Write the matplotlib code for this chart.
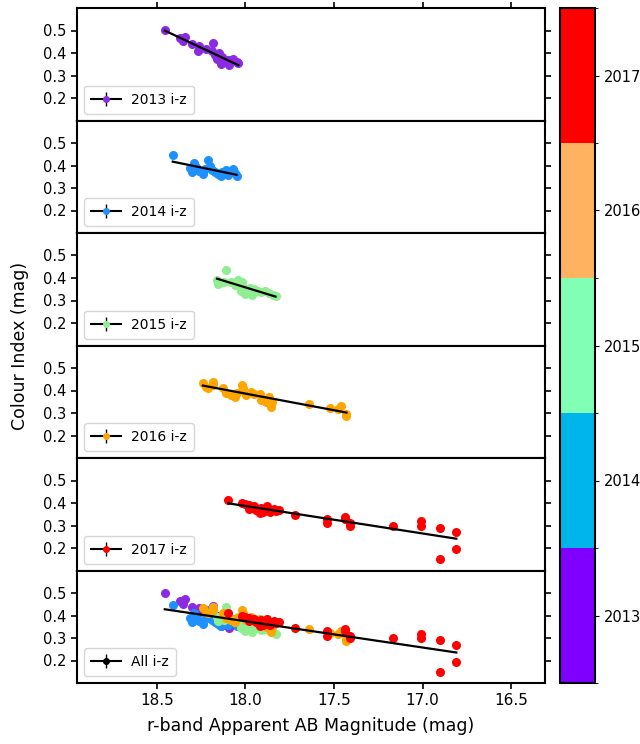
import numpy as np
import matplotlib
matplotlib.use("Agg")
import matplotlib.pyplot as plt
from matplotlib.colors import ListedColormap, BoundaryNorm
import matplotlib as mpl

years = [2013, 2014, 2015, 2016, 2017]
colors = ["blueviolet", "dodgerblue", "lightgreen", "orange", "red"]

mag_2013 = [18.455, 18.37, 18.34, 18.35, 18.30, 18.26, 18.27, 18.22, 18.18, 18.19, 18.17,
            18.15, 18.16, 18.14, 18.13, 18.135, 18.10, 18.09, 18.07, 18.05, 18.04, 18.12, 18.11]
col_2013 = [0.502, 0.465, 0.472, 0.453, 0.44, 0.432, 0.41, 0.42, 0.443, 0.408, 0.39,
            0.40, 0.375, 0.368, 0.383, 0.353, 0.368, 0.345, 0.372, 0.36, 0.355, 0.37, 0.36]

mag_2014 = [18.41, 18.315, 18.29, 18.28, 18.30, 18.26, 18.21, 18.20, 18.19, 18.17, 18.155,
            18.135, 18.13, 18.11, 18.09, 18.10, 18.07, 18.06, 18.05, 18.24, 18.23]
col_2014 = [0.447, 0.387, 0.41, 0.395, 0.372, 0.376, 0.424, 0.40, 0.382, 0.372, 0.364,
            0.352, 0.372, 0.38, 0.372, 0.357, 0.383, 0.365, 0.352, 0.364, 0.385]

mag_2015 = [18.16, 18.155, 18.11, 18.12, 18.08, 18.06, 18.04, 18.03, 18.02, 18.025, 18.005,
            17.995, 17.975, 17.96, 17.95, 17.93, 17.91, 17.89, 17.865, 17.845, 17.83, 17.975]
col_2015 = [0.393, 0.374, 0.437, 0.38, 0.384, 0.37, 0.393, 0.366, 0.38, 0.344, 0.329,
            0.35, 0.336, 0.325, 0.35, 0.344, 0.337, 0.34, 0.334, 0.325, 0.318, 0.357]

mag_2016 = [18.24, 18.22, 18.21, 18.18, 18.185, 18.125, 18.11, 18.08, 18.06, 18.05, 18.02,
            18.015, 17.995, 17.97, 17.95, 17.92, 17.91, 17.885, 17.865, 17.855, 17.85,
            17.64, 17.52, 17.475, 17.46, 17.43, 17.43]
col_2016 = [0.432, 0.417, 0.41, 0.44, 0.425, 0.41, 0.387, 0.38, 0.369, 0.387, 0.424,
            0.41, 0.38, 0.394, 0.383, 0.384, 0.357, 0.35, 0.369, 0.327, 0.35,
            0.342, 0.324, 0.32, 0.33, 0.297, 0.285]

mag_2017 = [18.097, 18.02, 18.00, 17.98, 17.96, 17.94, 17.92, 17.90, 17.88, 17.86, 17.84,
            17.81, 17.95, 17.91, 17.93, 17.98, 17.87, 17.83,
            17.72, 17.54, 17.54, 17.44, 17.44, 17.41, 17.41, 17.17, 17.01, 17.01,
            16.90, 16.90, 16.81, 16.81]
col_2017 = [0.413, 0.40, 0.395, 0.39, 0.38, 0.37, 0.355, 0.36, 0.385, 0.36, 0.375,
            0.37, 0.385, 0.378, 0.365, 0.375, 0.372, 0.365,
            0.345, 0.33, 0.31, 0.34, 0.33, 0.31, 0.30, 0.30, 0.32, 0.30,
            0.29, 0.15, 0.27, 0.195]

mags = [mag_2013, mag_2014, mag_2015, mag_2016, mag_2017]
cols = [col_2013, col_2014, col_2015, col_2016, col_2017]

xticks = [18.5, 18.0, 17.5, 17.0, 16.5]
yticks = [0.2, 0.3, 0.4, 0.5]

fig = plt.figure(figsize=(6.4, 7.44), dpi=100)
left, right = 77 / 640, 545 / 640
bottom, top = 1 - 683 / 744, 1 - 8 / 744
n = 6
h = (top - bottom) / n
axes = []
for i in range(n):
    ax = fig.add_axes([left, top - (i + 1) * h, right - left, h])
    axes.append(ax)

def style(ax, i):
    ax.set_xlim(18.95, 16.31)
    ax.set_ylim(0.1, 0.6)
    ax.set_yticks(yticks)
    ax.set_xticks(xticks)
    ax.tick_params(axis="y", which="both", direction="out", left=True, right=True,
                   labelleft=True, labelright=False, labelsize=10.5, length=4, width=1.2)
    ax.tick_params(axis="x", direction="out", labelsize=11, length=4, width=1.2,
                   top=(i == 0), bottom=(i == n - 1), labeltop=False,
                   labelbottom=(i == n - 1))
    for s in ax.spines.values():
        s.set_linewidth(1.5)

def legend_handle(ax, c, label):
    hnd = ax.errorbar([np.nan], [np.nan], yerr=[np.nan], fmt="-o", color="k",
                      mfc=c, mec=c, ms=4, lw=1.5, elinewidth=1.0)
    ax.legend([hnd], [label], loc="lower left", fontsize=10, handlelength=2.2,
              handletextpad=0.7, borderpad=0.5, fancybox=True)

for i, (yr, c, mx, cy) in enumerate(zip(years, colors, mags, cols)):
    ax = axes[i]
    mx = np.array(mx); cy = np.array(cy)
    ax.plot(mx, cy, "o", color=c, ms=5.5, zorder=2)
    p = np.polyfit(mx, cy, 1)
    xf = np.array([mx.max(), mx.min()])
    ax.plot(xf, np.polyval(p, xf), "-", color="k", lw=1.6, zorder=3)
    style(ax, i)
    legend_handle(ax, c, f"{yr} i-z")

ax = axes[-1]
allx, ally = [], []
for c, mx, cy in zip(colors, mags, cols):
    ax.plot(mx, cy, "o", color=c, ms=5.5, zorder=2)
    allx += list(mx); ally += list(cy)
allx = np.array(allx); ally = np.array(ally)
p = np.polyfit(allx, ally, 1)
xf = np.array([allx.max(), allx.min()])
ax.plot(xf, np.polyval(p, xf), "-", color="k", lw=1.6, zorder=3)
style(ax, n - 1)
legend_handle(ax, "k", "All i-z")
ax.set_xlabel("r-band Apparent AB Magnitude (mag)", fontsize=12.5, labelpad=6)

fig.text(0.032, (top + bottom) / 2, "Colour Index (mag)", rotation=90,
         va="center", ha="center", fontsize=12.5)

cmap = ListedColormap(plt.get_cmap("rainbow")(np.linspace(0, 1, 5)))
norm = BoundaryNorm(np.arange(2012.5, 2018.5, 1), cmap.N)
cax = fig.add_axes([560 / 640, bottom, 35 / 640, top - bottom])
cb = fig.colorbar(mpl.cm.ScalarMappable(norm=norm, cmap=cmap), cax=cax, ticks=years)
cb.ax.tick_params(labelsize=10.5, length=3)
cb.outline.set_linewidth(1.5)

fig.savefig("out.png", dpi=100)
